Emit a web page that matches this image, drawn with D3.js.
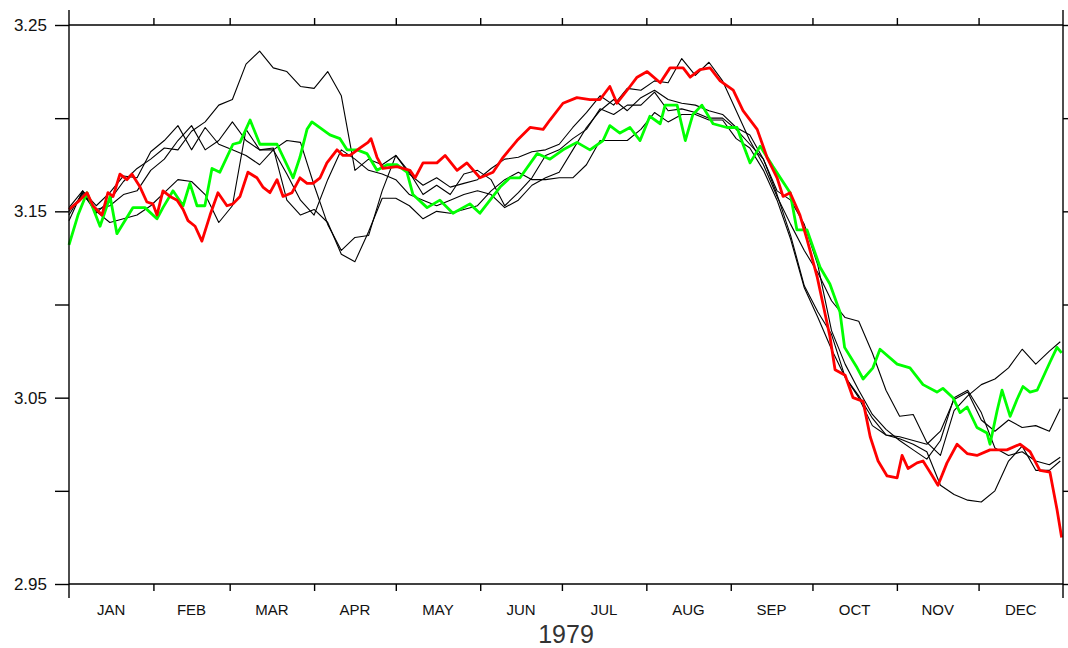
<!DOCTYPE html>
<html>
<head>
<meta charset="utf-8">
<script src="https://cdn.jsdelivr.net/npm/d3@7"></script>
<style>
  html, body { margin: 0; padding: 0; background: #fff; }
  svg { display: block; font-family: "Liberation Sans", Arial, sans-serif; }
</style>
</head>
<body>
<div id="chart"></div>
<script>
const sampleDays = [0,5,10,15,20,25,30,35,40,45,50,55,60,65,70,75,80,85,90,95,
  100,105,110,115,120,125,130,135,140,145,150,155,160,165,170,175,180,185,190,195,
  200,205,210,215,220,225,230,235,240,245,250,255,260,265,270,275,280,285,290,295,
  300,305,310,315,320,325,330,335,340,345,350,355,360,364];

const monthLabels = ["JAN","FEB","MAR","APR","MAY","JUN","JUL","AUG","SEP","OCT","NOV","DEC"];
const yTickValues = [2.95, 3.00, 3.05, 3.10, 3.15, 3.20, 3.25];
const yLabelValues = [2.95, 3.05, 3.15, 3.25];
const yearLabel = "1979";

// thin black members
const black1 = [3.148,3.160,3.149,3.156,3.166,3.173,3.178,3.184,3.183,3.193,3.198,3.207,3.210,3.229,3.236,3.227,3.225,3.217,3.216,3.225,
  3.212,3.172,3.178,3.175,3.180,3.170,3.164,3.168,3.163,3.165,3.167,3.173,3.178,3.179,3.182,3.183,3.186,3.195,3.203,3.212,
  3.207,3.216,3.215,3.220,3.219,3.232,3.223,3.230,3.220,3.204,3.188,3.175,3.158,3.143,3.129,3.117,3.102,3.093,3.091,3.074,
  3.054,3.040,3.041,3.026,3.019,3.043,3.051,3.057,3.060,3.066,3.076,3.068,3.075,3.080];
const black2 = [3.145,3.161,3.150,3.144,3.146,3.148,3.153,3.160,3.167,3.166,3.159,3.144,3.153,3.194,3.183,3.184,3.156,3.148,3.151,3.144,
  3.127,3.123,3.139,3.157,3.157,3.153,3.146,3.150,3.149,3.151,3.153,3.161,3.167,3.171,3.167,3.167,3.168,3.168,3.175,3.188,
  3.188,3.188,3.194,3.203,3.198,3.202,3.202,3.199,3.199,3.189,3.184,3.172,3.156,3.135,3.109,3.093,3.076,3.061,3.050,3.035,
  3.030,3.028,3.025,3.021,3.003,2.998,2.995,2.994,3.000,3.016,3.024,3.011,3.011,3.016];
const black3 = [3.152,3.161,3.153,3.160,3.169,3.168,3.182,3.188,3.196,3.183,3.195,3.186,3.183,3.180,3.175,3.183,3.188,3.187,3.164,3.143,
  3.129,3.136,3.137,3.161,3.180,3.171,3.159,3.164,3.159,3.170,3.172,3.167,3.153,3.160,3.168,3.180,3.183,3.189,3.194,3.205,
  3.202,3.207,3.207,3.214,3.204,3.205,3.203,3.200,3.200,3.194,3.186,3.178,3.159,3.137,3.110,3.096,3.084,3.061,3.051,3.039,
  3.030,3.029,3.027,3.025,3.032,3.049,3.053,3.038,3.032,3.038,3.034,3.035,3.032,3.044];
const black4 = [3.150,3.159,3.151,3.153,3.159,3.161,3.172,3.178,3.188,3.196,3.183,3.188,3.198,3.188,3.183,3.183,3.170,3.156,3.148,3.167,
  3.183,3.178,3.172,3.170,3.167,3.159,3.156,3.153,3.156,3.159,3.161,3.159,3.152,3.156,3.164,3.168,3.171,3.183,3.195,3.204,
  3.210,3.204,3.211,3.215,3.210,3.208,3.207,3.204,3.202,3.195,3.191,3.178,3.161,3.156,3.143,3.121,3.086,3.068,3.054,3.041,
  3.033,3.027,3.022,3.017,3.027,3.050,3.054,3.042,3.023,3.019,3.021,3.016,3.014,3.018];

// thick green member, read at its turning points
const greenDays = [0,3.3,6.6,11.4,15.1,17.6,23.5,27.9,32.3,34.5,38.2,41.9,44.4,47.0,49.9,52.5,55.4,60.2,62.8,66.5,
  70.1,76.4,82.3,84.8,87.4,89.2,95.8,99.5,102.1,105.8,109.4,113.1,116.8,120.4,124.1,126.3,131.5,136.2,141.0,147.2,
  150.9,154.6,158.3,161.9,165.6,171.9,176.6,181.4,186.5,191.3,196.1,198.6,202.3,206.0,209.7,213.3,217.1,218.9,223.3,226.3,
  229.1,232.4,236.5,241.6,245.3,247.5,250.1,253.8,258.5,264.8,267.3,271.0,275.8,279.4,283.1,284.8,289.4,291.6,295.2,297.8,
  304.1,308.8,313.6,318.7,320.9,324.6,327.2,329.8,333.4,337.1,338.2,340.8,342.6,345.6,348.1,350.3,352.9,355.5,360.2,362.8,364.5];
const greenValues = [3.132,3.148,3.160,3.142,3.158,3.138,3.152,3.152,3.146,3.152,3.161,3.153,3.165,3.153,3.153,3.173,3.171,3.186,3.187,3.199,
  3.186,3.186,3.168,3.179,3.194,3.198,3.191,3.189,3.183,3.183,3.181,3.172,3.175,3.175,3.171,3.159,3.152,3.156,3.149,3.154,
  3.149,3.156,3.163,3.168,3.168,3.181,3.178,3.183,3.187,3.183,3.188,3.196,3.192,3.195,3.188,3.201,3.197,3.207,3.207,3.188,
  3.202,3.207,3.197,3.195,3.195,3.186,3.176,3.185,3.174,3.160,3.140,3.140,3.120,3.111,3.096,3.077,3.066,3.060,3.066,3.076,
  3.068,3.066,3.057,3.053,3.055,3.050,3.042,3.045,3.034,3.031,3.025,3.043,3.054,3.040,3.049,3.056,3.053,3.054,3.069,3.077,3.074];

// thick red member, read at its turning points
const redDays = [0,4.0,6.6,8.8,12.1,14.3,16.2,18.7,21.3,23.1,26.1,28.6,30.8,32.3,34.5,37.1,39.7,41.9,43.7,46.3,
  48.8,51.8,54.7,58.0,60.2,62.8,65.7,69.0,71.2,73.8,76.4,78.6,81.9,84.8,87.4,89.6,92.2,94.7,98.4,100.6,
  103.2,106.9,109.8,110.9,113.1,115.3,120.4,125.2,127.1,130.0,135.1,138.1,142.5,146.1,150.9,155.7,159.4,164.5,169.3,174.1,
  176.6,181.4,186.5,191.3,195.0,198.6,201.2,206.0,208.6,212.3,217.1,220.7,225.5,228.1,231.7,235.4,239.1,243.9,247.5,252.7,
  256.3,260.0,262.2,264.8,268.4,271.0,274.7,276.9,279.4,281.3,285.0,287.9,291.6,294.2,297.1,300.4,304.1,305.9,308.1,311.4,
  313.6,316.2,319.1,322.4,326.1,329.8,333.4,338.2,344.4,349.2,352.9,356.5,360.2,362.8,364.5];
const redValues = [3.151,3.156,3.160,3.153,3.148,3.160,3.158,3.170,3.167,3.170,3.163,3.155,3.154,3.148,3.161,3.158,3.156,3.151,3.145,3.142,
  3.134,3.148,3.160,3.153,3.154,3.158,3.171,3.168,3.163,3.160,3.167,3.158,3.160,3.168,3.165,3.165,3.168,3.176,3.183,3.180,
  3.180,3.184,3.187,3.189,3.179,3.173,3.174,3.172,3.168,3.176,3.176,3.180,3.172,3.176,3.168,3.171,3.179,3.188,3.195,3.194,
  3.199,3.208,3.211,3.210,3.210,3.217,3.208,3.217,3.222,3.225,3.219,3.227,3.227,3.222,3.226,3.227,3.220,3.215,3.204,3.194,
  3.179,3.168,3.158,3.160,3.148,3.135,3.115,3.100,3.083,3.065,3.062,3.050,3.048,3.029,3.016,3.008,3.007,3.019,3.012,3.015,
  3.016,3.010,3.003,3.015,3.025,3.020,3.019,3.022,3.022,3.025,3.021,3.011,3.010,2.990,2.975];

const series = [
  { name: "black1", days: sampleDays, values: black1, color: "#000", width: 1.1 },
  { name: "black2", days: sampleDays, values: black2, color: "#000", width: 1.1 },
  { name: "black3", days: sampleDays, values: black3, color: "#000", width: 1.1 },
  { name: "black4", days: sampleDays, values: black4, color: "#000", width: 1.1 },
  { name: "green", days: greenDays, values: greenValues, color: "#00ff00", width: 2.8 },
  { name: "red", days: redDays, values: redValues, color: "#ff0000", width: 2.8 }
];

const W = 1068, H = 648;
const margin = { top: 25, right: 5, bottom: 64, left: 69 };
const innerW = W - margin.left - margin.right;   // 994
const innerH = H - margin.top - margin.bottom;   // 559

const svg = d3.select("#chart").append("svg")
  .attr("width", W)
  .attr("height", H);

const g = svg.append("g")
  .attr("transform", `translate(${margin.left},${margin.top})`);

const yearStart = new Date(Date.UTC(1979, 0, 1));
const yearEnd = new Date(Date.UTC(1980, 0, 1));
const dayToDate = d => new Date(yearStart.getTime() + d * 864e5);

const x = d3.scaleUtc().domain([yearStart, yearEnd]).range([0, innerW]);
const y = d3.scaleLinear().domain([2.95, 3.25]).range([innerH, 0]);

// lines
g.append("g").selectAll("path")
  .data(series)
  .join("path")
  .attr("fill", "none")
  .attr("stroke", d => d.color)
  .attr("stroke-width", d => d.width)
  .attr("stroke-linejoin", "round")
  .attr("d", d => d3.line()
    .x((v, i) => x(dayToDate(d.days[i])))
    .y(v => y(v))(d.values));

// frame
const axisColor = "#000";
g.append("line").attr("x1", 0).attr("x2", innerW).attr("y1", 0).attr("y2", 0)
  .attr("stroke", axisColor).attr("stroke-width", 1.4);
g.append("line").attr("x1", 0).attr("x2", innerW).attr("y1", innerH).attr("y2", innerH)
  .attr("stroke", axisColor).attr("stroke-width", 1.4);
g.append("line").attr("x1", 0).attr("x2", 0).attr("y1", -15).attr("y2", innerH + 14)
  .attr("stroke", axisColor).attr("stroke-width", 1.4);
g.append("line").attr("x1", innerW).attr("x2", innerW).attr("y1", -15).attr("y2", innerH + 14)
  .attr("stroke", axisColor).attr("stroke-width", 1.4);

// y ticks, left and right
const yAxisLeft = d3.axisLeft(y).tickValues(yTickValues).tickSize(14).tickSizeOuter(0)
  .tickFormat(d => yLabelValues.some(v => Math.abs(v - d) < 1e-6) ? d3.format(".2f")(d) : "");
const gyl = g.append("g").call(yAxisLeft);
gyl.select(".domain").remove();
gyl.selectAll(".tick line").attr("stroke", axisColor).attr("stroke-width", 1.4);
gyl.selectAll(".tick text")
  .attr("x", -22)
  .attr("fill", "#111")
  .style("font-size", "17px")
  .style("font-family", "'Liberation Sans', Arial, sans-serif");

const gyr = g.append("g").attr("transform", `translate(${innerW},0)`)
  .call(d3.axisRight(y).tickValues(yTickValues).tickSize(10).tickFormat(""));
gyr.select(".domain").remove();
gyr.selectAll(".tick line").attr("stroke", axisColor).attr("stroke-width", 1.4);

// month ticks (top and bottom)
const monthStarts = d3.utcMonth.range(new Date(Date.UTC(1979, 1, 1)), yearEnd);
const gxb = g.append("g").attr("transform", `translate(0,${innerH})`)
  .call(d3.axisBottom(x).tickValues(monthStarts).tickSize(7).tickFormat(""));
gxb.select(".domain").remove();
gxb.selectAll(".tick line").attr("stroke", axisColor).attr("stroke-width", 1.4);

const gxt = g.append("g")
  .call(d3.axisTop(x).tickValues(monthStarts).tickSize(7).tickFormat(""));
gxt.select(".domain").remove();
gxt.selectAll(".tick line").attr("stroke", axisColor).attr("stroke-width", 1.4);

// month names centred in each month
const monthMids = d3.utcMonth.range(yearStart, yearEnd).map(m => {
  const next = d3.utcMonth.offset(m, 1);
  return new Date((m.getTime() + next.getTime()) / 2);
});
g.append("g").selectAll("text")
  .data(monthMids)
  .join("text")
  .attr("x", d => x(d))
  .attr("y", innerH + 31)
  .attr("text-anchor", "middle")
  .attr("fill", "#111")
  .style("font-size", "15px")
  .text((d, i) => monthLabels[i]);

// year label
g.append("text")
  .attr("x", innerW / 2)
  .attr("y", innerH + 59)
  .attr("text-anchor", "middle")
  .attr("fill", "#333")
  .style("font-size", "25px")
  .text(yearLabel);
</script>
</body>
</html>
